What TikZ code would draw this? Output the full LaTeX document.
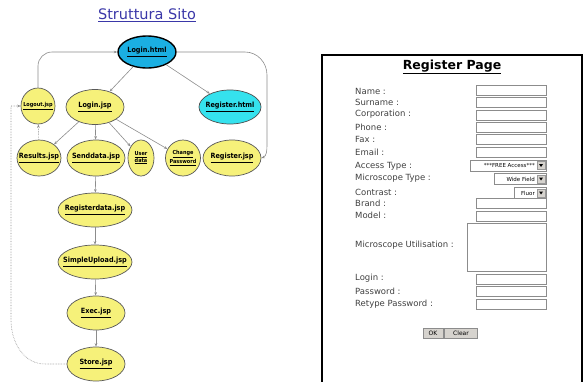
\documentclass[tikz,border=0pt]{standalone}
\usepackage{fontspec}
\usetikzlibrary{shapes.geometric,arrows.meta,positioning}
\newfontfamily\formfont{DejaVu Sans}
\newfontfamily\pagefont{DejaVu Sans Condensed}
\definecolor{titleblue}{HTML}{3A37A8}
\definecolor{pageyellow}{HTML}{F6F17A}
\definecolor{htmlblue}{HTML}{1BAFE2}
\definecolor{htmlcyan}{HTML}{35E2EE}
\definecolor{btngray}{HTML}{D6D3CE}
\begin{document}
\begin{tikzpicture}[x=1pt,y=-1pt,
  page/.style={ellipse,draw=black!65,line width=0.7pt,fill=pageyellow,inner xsep=-12pt,inner ysep=0pt,
    font=\pagefont\bfseries\fontsize{7.2}{7.5}\selectfont,align=center},
  smallpage/.style={page,font=\pagefont\bfseries\fontsize{5.5}{6.3}\selectfont},
  link/.style={draw=black!45,line width=0.6pt,-{Stealth[length=3.5pt,width=2.6pt]}},
  backlink/.style={link,densely dotted},
  field/.style={draw=black!45,fill=white,line width=0.5pt},
  formtext/.style={anchor=west,inner sep=0pt,text=black!75,font=\formfont\fontsize{8.5}{9}\selectfont},
  button/.style={draw=black!45,fill=btngray,line width=0.5pt,inner sep=0pt,
    minimum height=10pt,font=\formfont\fontsize{6}{6.5}\selectfont}]
\useasboundingbox (0,0) rectangle (583,381);
% site map
\node[font=\formfont\fontsize{14.5}{16}\selectfont,text=titleblue] (title) at (147,15) {\underline{Struttura Sito}};
\node[page,fill=htmlblue,draw=black,line width=1.4pt,minimum width=58pt,minimum height=32pt] (loginhtml) at (147,52) {\underline{Login.html}};
\node[smallpage,minimum width=34pt,minimum height=36pt] (logout) at (38,106) {\underline{Logout.jsp}};
\node[page,minimum width=58pt,minimum height=35pt] (loginjsp) at (95,107) {\underline{Login.jsp}};
\node[page,fill=htmlcyan,draw=black!70,minimum width=62pt,minimum height=34pt] (registerhtml) at (230,107) {\underline{Register.html}};
\node[page,minimum width=44pt,minimum height=36pt] (results) at (39,158) {\underline{Results.jsp}};
\node[page,minimum width=58pt,minimum height=36pt] (senddata) at (96,158) {\underline{Senddata.jsp}};
\node[smallpage,minimum width=26pt,minimum height=36pt] (userdata) at (141,158) {\underline{User}\\\underline{data}};
\node[smallpage,minimum width=35pt,minimum height=36pt] (changepwd) at (183,158) {\underline{Change}\\\underline{Password}};
\node[page,minimum width=58pt,minimum height=36pt] (registerjsp) at (232,158) {\underline{Register.jsp}};
\node[page,minimum width=74pt,minimum height=34pt] (registerdata) at (95,210) {\underline{Registerdata.jsp}};
\node[page,minimum width=74pt,minimum height=34pt] (simpleupload) at (95,262) {\underline{SimpleUpload.jsp}};
\node[page,minimum width=58pt,minimum height=34pt] (exec) at (96,313) {\underline{Exec.jsp}};
\node[page,minimum width=58pt,minimum height=34pt] (store) at (96,364) {\underline{Store.jsp}};
\draw[link] (loginhtml) -- (loginjsp);
\draw[link] (loginhtml) -- (registerhtml);
\draw[link,rounded corners=14pt] (logout) |- (loginhtml);
\draw[link] (loginhtml.east) -- (245,52) to[out=0,in=90] (267,75) -- (267,145) to[out=-90,in=20] (registerjsp.east);
\foreach \t in {results,senddata,userdata,changepwd} \draw[link] (loginjsp) -- (\t);
\foreach \a/\b in {senddata/registerdata,registerdata/simpleupload,simpleupload/exec,exec/store} \draw[link] (\a) -- (\b);
\draw[backlink] (results) -- (logout);
\draw[backlink] (store.west) -- (45,364) to[out=180,in=-90] (11,320) -- (11,106) -- (logout.west);
% register page
\draw[line width=2pt] (322,390) -- (322,55) -- (582,55) -- (582,390);
\node[font=\formfont\bfseries\fontsize{12.5}{14}\selectfont] (regtitle) at (452,67) {\underline{Register Page}};
\foreach \y/\t in {91/Name,102/Surname,114/Corporation,127/Phone,139/Fax,152/Email,166/Access Type,178/Microscope Type,192/Contrast,203/Brand,215/Model,245/Microscope Utilisation,278/Login,291/Password,304/Retype Password}
  \node[formtext] at (355,\y) {\t\ :};
\foreach \y in {90,102,115,127,139.5,152,203,216,279,291,304} \draw[field] (476,\y-5) rectangle (546,\y+5);
\draw[field] (467,223) rectangle (546,271);
\foreach \l/\y/\t in {470/165.5/***FREE Access***,494/179/Wide Field,514/193/Fluor} {
  \draw[field] (\l,\y-5.5) rectangle (546,\y+5.5);
  \node[anchor=east,inner sep=1pt,font=\formfont\fontsize{5.5}{6}\selectfont] at (536,\y) {\t};
  \draw[fill=btngray,draw=black!40,line width=0.4pt] (537,\y-4) rectangle (545,\y+4);
  \fill (539,\y-1.5) -- (543,\y-1.5) -- (541,\y+1.5) -- cycle;
}
\node[button,minimum width=20pt] (ok) at (433,333) {OK};
\node[button,minimum width=33pt,right=1pt of ok] (clear) {Clear};
\end{tikzpicture}
\end{document}
